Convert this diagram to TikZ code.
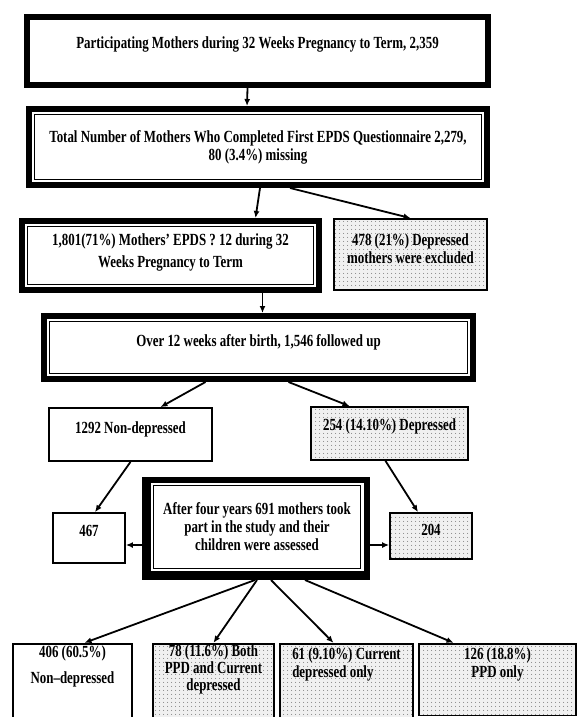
\documentclass[tikz,border=0pt]{standalone}
\usepackage{fontspec}
\setmainfont{Liberation Serif}[FakeStretch=0.76]
\usetikzlibrary{arrows.meta,patterns.meta}

\begin{document}
\begin{tikzpicture}[x=1pt,y=-1pt,font={\bfseries\fontsize{17}{18}\selectfont},
  thickbox/.style={draw,line width=6pt,align=center,inner sep=0pt},
  thinbox/.style={draw,line width=1.8pt,align=center,inner sep=0pt},
  dotbox/.style={thinbox,preaction={fill=black!6},pattern={Dots[distance=4pt,radius=0.55pt]},pattern color=black!70},
  arr/.style={-{Latex[length=7pt,width=6pt]},line width=1.8pt}]
\useasboundingbox (0,0) rectangle (576,717);
% top of the chart
\node[thickbox,minimum width=461pt,minimum height=68pt,text depth=16pt] (participating) at (257.5,51) {Participating Mothers during 32 Weeks Pregnancy to Term, 2,359};
\node[thickbox,minimum width=458pt,minimum height=76pt] (completed) at (258,147) {Total Number of Mothers Who Completed First EPDS Questionnaire 2,279,\\80 (3.4\%) missing};
\node[thickbox,minimum width=297pt,minimum height=69pt,text depth=10pt] (eligible) at (170.5,255.5) {1,801(71\%) Mothers’ EPDS ? 12 during 32\\[4pt]Weeks Pregnancy to Term};
\node[dotbox,minimum width=153pt,minimum height=71pt,text depth=12pt] (excluded) at (410.5,254.5) {478 (21\%) Depressed\\mothers were excluded};
\node[thickbox,minimum width=429pt,minimum height=63pt,text depth=14pt] (followed) at (258.5,347.5) {Over 12 weeks after birth, 1,546 followed up};
% after birth
\node[thinbox,minimum width=163pt,minimum height=53pt,text depth=14pt] (nondep) at (130.5,434.5) {1292 Non-depressed};
\node[dotbox,minimum width=157pt,minimum height=53pt,text depth=18pt] (dep) at (389.5,433.5) {254 (14.10\%) Depressed};
\node[thickbox,minimum width=219pt,minimum height=94pt] (assessed) at (257,527) {After four years 691 mothers took\\part in the study and their\\children were assessed};
\node[thinbox,minimum width=72pt,minimum height=50pt,text depth=14pt] (nondepfour) at (89,538) {467};
\node[dotbox,minimum width=82pt,minimum height=46pt,text depth=12pt] (depfour) at (431,536) {204};
% four years groups
\node[thinbox,anchor=north,minimum width=119pt,inner ysep=2pt,text depth=50pt] (none) at (72.5,642.8) {406 (60.5\%)\\[8pt]Non--depressed};
\node[dotbox,anchor=north,minimum width=121pt,inner ysep=1pt,text depth=30pt] (both) at (213.5,642.8) {78 (11.6\%) Both\\[-1pt]PPD and Current\\[-1pt]depressed};
\node[dotbox,anchor=north,minimum width=133pt,inner ysep=4pt,text depth=50pt,align=left] (current) at (346.5,642.8) {61 (9.10\%) Current\\depressed only};
\node[dotbox,anchor=north,minimum width=157pt,minimum height=66pt,inner ysep=4pt,text depth=34pt] (ppd) at (497.5,642.8) {126 (18.8\%)\\PPD only};
% inner rules
\foreach \n in {completed,eligible,followed,assessed}
  \draw[line width=1.2pt] ([shift={(8.8,8.8)}]\n.north west) rectangle ([shift={(-8.8,-8.8)}]\n.south east);
\draw[line width=3pt] ([shift={(-1.4,0)}]assessed.north west) -- ([shift={(-1.4,1.4)}]assessed.south west) -- ([shift={(0,1.4)}]assessed.south east);
% arrows
\draw[arr] ([xshift=-10pt]participating.south) -- ([xshift=-11pt]completed.north);
\draw[arr] ([xshift=2pt]completed.south) -- ([xshift=85pt]eligible.north);
\draw[arr] ([xshift=32pt]completed.south) -- (excluded.north);
\draw[arr] ([xshift=92pt]eligible.south) -- ([xshift=4pt]followed.north);
\draw[arr] ([xshift=-53pt]followed.south) -- ([xshift=30pt]nondep.north);
\draw[arr] ([xshift=30pt]followed.south) -- ([xshift=-40pt]dep.north);
\draw[arr] (nondep.south) -- ([xshift=6pt]nondepfour.north);
\draw[arr] ([xshift=-4pt]dep.south) -- ([xshift=-13pt]depfour.north);
\draw[arr] ([yshift=-18pt,xshift=-3pt]assessed.west) -- ([yshift=-7pt]nondepfour.east);
\draw[arr] ([yshift=-18pt]assessed.east) -- ([yshift=-9pt]depfour.west);
\draw[arr] ([yshift=-3pt,xshift=-2pt]assessed.south) -- ([xshift=12pt]none.north);
\draw[arr] ([yshift=-3pt]assessed.south) -- (both.north);
\draw[arr] ([yshift=-3pt,xshift=14pt]assessed.south) -- ([xshift=-13pt]current.north);
\draw[arr] ([yshift=-3pt,xshift=48pt]assessed.south) -- ([xshift=-44pt]ppd.north);
\end{tikzpicture}
\end{document}
